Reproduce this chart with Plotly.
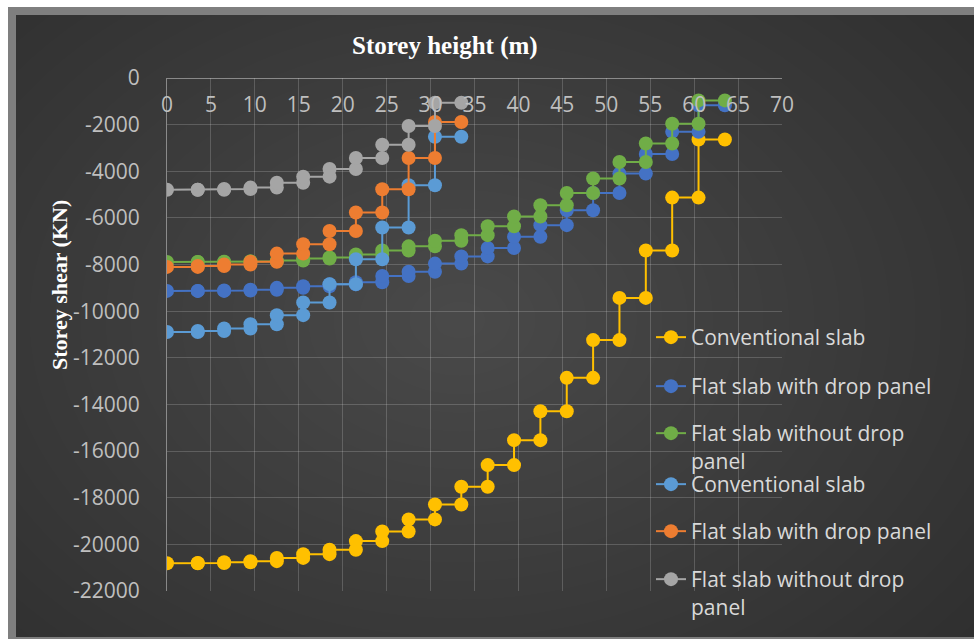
import plotly.graph_objects as go

# ---------------- data ----------------
heights_21 = [0, 3.5, 6.5, 9.5, 12.5, 15.5, 18.5, 21.5, 24.5, 27.5, 30.5, 33.5,
              36.5, 39.5, 42.5, 45.5, 48.5, 51.5, 54.5, 57.5, 60.5, 63.5]
heights_11 = [0, 3.5, 6.5, 9.5, 12.5, 15.5, 18.5, 21.5, 24.5, 27.5, 30.5, 33.5]

conv_21 = [-20810, -20800, -20770, -20720, -20580, -20420, -20230, -19860, -19450, -18930,
           -18290, -17530, -16600, -15530, -14290, -12860, -11240, -9430, -7400, -5130, -2640]
flat_drop_21 = [-9130, -9130, -9110, -9080, -9000, -8930, -8850, -8760, -8490, -8310,
                -7960, -7650, -7290, -6810, -6310, -5670, -4930, -4100, -3260, -2310, -1170]
flat_nodrop_21 = [-7890, -7890, -7880, -7860, -7830, -7740, -7700, -7570, -7400, -7220,
                  -6980, -6740, -6360, -5940, -5460, -4930, -4310, -3600, -2810, -1960, -960]

conv_11 = [-10890, -10850, -10740, -10560, -10170, -9630, -8840, -7770, -6410, -4600, -2520]
flat_drop_11 = [-8100, -8060, -8000, -7880, -7530, -7130, -6560, -5770, -4770, -3430, -1890]
flat_nodrop_11 = [-4790, -4790, -4760, -4700, -4490, -4230, -3900, -3430, -2860, -2060, -1060]

series_names = ["Conventional slab", "Flat slab with drop panel", "Flat slab without drop<br>panel",
                "Conventional slab", "Flat slab with drop panel", "Flat slab without drop<br>panel"]
series_colors = ["#FFC000", "#4472C4", "#70AD47", "#5B9BD5", "#ED7D31", "#A5A5A5"]

x_ticks = list(range(0, 75, 5))
y_ticks = list(range(0, -24000, -2000))
y_ticktext = [str(v) for v in y_ticks]

# ---------------- geometry helpers ----------------
W, H = 974, 639
ML, MR, MT, MB = 167, 974 - 782, 78, 639 - 591
PW, PH = W - ML - MR, H - MT - MB


def px_x(px):
    return (px - ML) / PW


def px_y(py):
    return 1 - (py - MT) / PH


def steps(h, v):
    xs, ys = [], []
    for i, val in enumerate(v):
        xs += [h[i], h[i + 1]]
        ys += [val, val]
    return xs, ys


fig = go.Figure()

all_series = [(heights_21, conv_21), (heights_21, flat_drop_21), (heights_21, flat_nodrop_21),
              (heights_11, conv_11), (heights_11, flat_drop_11), (heights_11, flat_nodrop_11)]

legend_sym_y = [337, 386, 433, 484, 531, 579]
legend_layouts = {}
for i, ((h, v), name, col) in enumerate(zip(all_series, series_names, series_colors)):
    xs, ys = steps(h, v)
    lg = "legend" if i == 0 else f"legend{i + 1}"
    fig.add_trace(go.Scatter(
        x=xs, y=ys, mode="lines+markers", name=name,
        line=dict(color=col, width=2),
        marker=dict(color=col, size=14, line=dict(width=0)),
        legend=lg,
    ))
    legend_layouts[lg] = dict(
        x=px_x(651), xanchor="left",
        y=px_y(legend_sym_y[i] - 20), yanchor="top",
        bgcolor="rgba(0,0,0,0)", borderwidth=0,
        valign="top",
        font=dict(family="Open Sans", size=21, color="#d9d9d9"),
    )

# ---------------- background ----------------
shapes = [
    dict(type="rect", xref="paper", yref="paper", layer="below",
         x0=px_x(8), x1=px_x(1000), y0=px_y(7), y1=px_y(660),
         fillcolor="#7f7f7f", line=dict(width=0)),
    dict(type="rect", xref="paper", yref="paper", layer="below",
         x0=px_x(16), x1=px_x(1000), y0=px_y(15), y1=px_y(637),
         fillcolor="#2b2b2b", line=dict(width=0)),
]
cx, cy = 460, 320
n_layers = 30
for k in range(n_layers):
    f = 1 - k / n_layers
    rx, ry = 760 * f, 560 * f
    shapes.append(dict(type="circle", xref="paper", yref="paper", layer="below",
                       x0=px_x(cx - rx), x1=px_x(cx + rx),
                       y0=px_y(cy - ry), y1=px_y(cy + ry),
                       fillcolor="rgba(255,255,255,0.0062)", line=dict(width=0)))
# re-draw the grey frame edges on top of the glow so they stay clean
shapes += [
    dict(type="rect", xref="paper", yref="paper", layer="below",
         x0=px_x(-20), x1=px_x(1000), y0=px_y(-20), y1=px_y(7),
         fillcolor="white", line=dict(width=0)),
    dict(type="rect", xref="paper", yref="paper", layer="below",
         x0=px_x(-20), x1=px_x(8), y0=px_y(-20), y1=px_y(660),
         fillcolor="white", line=dict(width=0)),
    dict(type="rect", xref="paper", yref="paper", layer="below",
         x0=px_x(8), x1=px_x(1000), y0=px_y(7), y1=px_y(15),
         fillcolor="#7f7f7f", line=dict(width=0)),
    dict(type="rect", xref="paper", yref="paper", layer="below",
         x0=px_x(8), x1=px_x(16), y0=px_y(7), y1=px_y(660),
         fillcolor="#7f7f7f", line=dict(width=0)),
    dict(type="rect", xref="paper", yref="paper", layer="below",
         x0=px_x(8), x1=px_x(1000), y0=px_y(637), y1=px_y(660),
         fillcolor="#7f7f7f", line=dict(width=0)),
]

annotations = [
    dict(text="<b>Storey height (m)</b>", xref="paper", yref="paper",
         x=px_x(445), y=px_y(46), showarrow=False, xanchor="center", yanchor="middle",
         font=dict(family="Liberation Serif", size=25, color="white")),
    dict(text="<b>Storey shear (KN)</b>", xref="paper", yref="paper",
         x=px_x(59), y=px_y(285), showarrow=False, xanchor="center", yanchor="middle",
         textangle=-90,
         font=dict(family="Liberation Serif", size=22, color="white")),
]

grid_col = "rgba(217,217,217,0.22)"
axis_col = "rgba(217,217,217,0.5)"

fig.update_layout(
    width=W, height=H,
    margin=dict(l=ML, r=MR, t=MT, b=MB, autoexpand=False),
    paper_bgcolor="white",
    plot_bgcolor="rgba(0,0,0,0)",
    shapes=shapes,
    annotations=annotations,
    showlegend=True,
    **legend_layouts,
    xaxis=dict(
        range=[0, 70], tickvals=x_ticks, showgrid=True, gridcolor=grid_col, gridwidth=1,
        zeroline=False, showline=True, linecolor=axis_col, linewidth=1,
        anchor="free", position=1, side="bottom",
        ticks="", ticklabelstandoff=8,
        tickfont=dict(family="Open Sans", size=21, color="#bfbfbf"),
    ),
    yaxis=dict(
        range=[-22000, 0], tickvals=y_ticks, ticktext=y_ticktext,
        showgrid=True, gridcolor=grid_col, gridwidth=1,
        zeroline=False, showline=True, linecolor=axis_col, linewidth=1,
        ticks="", ticklabelstandoff=22,
        tickfont=dict(family="Open Sans", size=21, color="#bfbfbf"),
    ),
)

fig.write_html("out.html")
